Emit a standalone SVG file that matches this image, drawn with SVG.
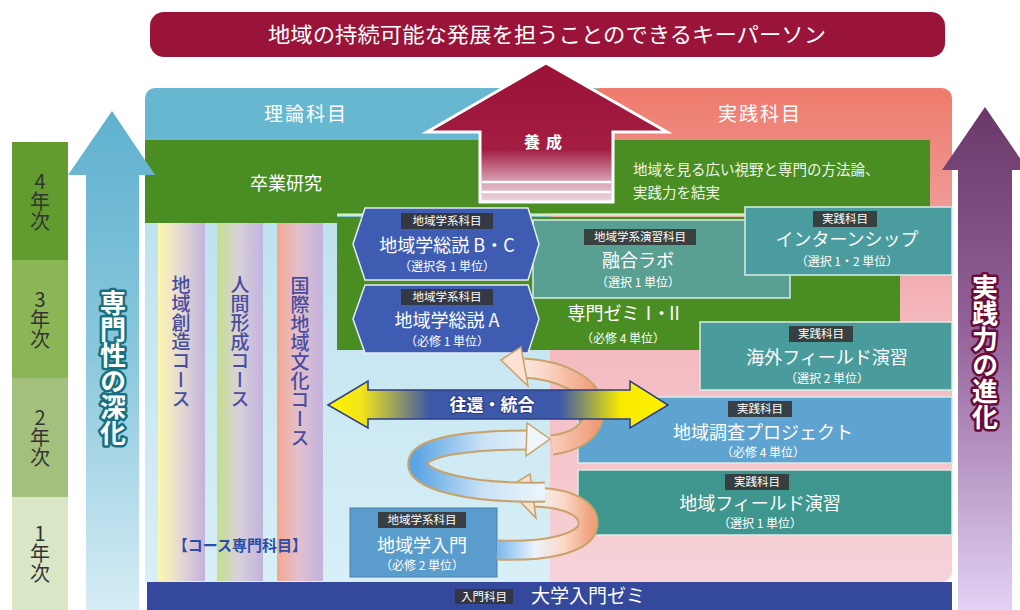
<svg xmlns="http://www.w3.org/2000/svg" width="1020" height="610" viewBox="0 0 1020 610">
<defs>
<style>
text{font-family:"Noto Sans CJK JP","Noto Sans",sans-serif}
.w{fill:#fff;text-anchor:middle}
.ttl{font-size:18px}
.sub{font-size:12px}
.tagr{fill:#333;opacity:.88}
.tagt{fill:#fff;font-size:11.5px;text-anchor:middle}
.vt{writing-mode:vertical-rl;text-orientation:upright;text-anchor:middle}
.yr{font-size:20px;fill:#333}
.crs{font-size:19px;fill:#4a4c9e;font-weight:500}
.box{stroke:#d8ece6;stroke-width:1.5}
.band{fill:none;stroke-linecap:butt;stroke-linejoin:round}
</style>
<linearGradient id="gLA" x1="0" y1="0" x2="0" y2="1"><stop offset="0" stop-color="#5fb1cf"/><stop offset="0.5" stop-color="#8cc8dd"/><stop offset="1" stop-color="#d6edf5"/></linearGradient>
<linearGradient id="gRA" x1="0" y1="0" x2="0" y2="1"><stop offset="0" stop-color="#6a3868"/><stop offset="0.45" stop-color="#94639a"/><stop offset="1" stop-color="#e2d2f4"/></linearGradient>
<linearGradient id="gYo" x1="0" y1="0" x2="0" y2="1"><stop offset="0" stop-color="#9a1236"/><stop offset="0.62" stop-color="#a31c42"/><stop offset="0.85" stop-color="#d7a0b3"/><stop offset="1" stop-color="#ecd9e1"/></linearGradient>
<linearGradient id="gR" gradientUnits="userSpaceOnUse" x1="0" y1="88" x2="0" y2="582"><stop offset="0" stop-color="#ee7b6c"/><stop offset="0.12" stop-color="#ef8a80"/><stop offset="0.45" stop-color="#f3b6bd"/><stop offset="1" stop-color="#f7d3d9"/></linearGradient>
<linearGradient id="gL" x1="0" y1="0" x2="0" y2="1"><stop offset="0" stop-color="#bfe2ef"/><stop offset="1" stop-color="#d8eff6"/></linearGradient>
<linearGradient id="gP1" x1="0" y1="0" x2="1" y2="0"><stop offset="0" stop-color="#fdf7b0"/><stop offset="0.45" stop-color="#e6dcd0"/><stop offset="1" stop-color="#c3b3de"/></linearGradient>
<linearGradient id="gP2" x1="0" y1="0" x2="1" y2="0"><stop offset="0" stop-color="#c4df8c"/><stop offset="0.45" stop-color="#d8d2d8"/><stop offset="1" stop-color="#c3b3de"/></linearGradient>
<linearGradient id="gP3" x1="0" y1="0" x2="1" y2="0"><stop offset="0" stop-color="#f6a68e"/><stop offset="0.45" stop-color="#e2c0cc"/><stop offset="1" stop-color="#c3b3de"/></linearGradient>
<linearGradient id="gY" gradientUnits="userSpaceOnUse" x1="328" y1="0" x2="668" y2="0"><stop offset="0" stop-color="#fff200"/><stop offset="0.1" stop-color="#f2e41a"/><stop offset="0.3" stop-color="#3c58a8"/><stop offset="0.68" stop-color="#3c58a8"/><stop offset="0.86" stop-color="#f7ea00"/><stop offset="1" stop-color="#fff200"/></linearGradient>
<linearGradient id="gS1" gradientUnits="userSpaceOnUse" x1="497" y1="0" x2="592" y2="0"><stop offset="0" stop-color="#7ab8ec"/><stop offset="0.4" stop-color="#eaf3fb"/><stop offset="0.7" stop-color="#fbd9c6"/><stop offset="1" stop-color="#efa07c"/></linearGradient>
<linearGradient id="gS2" gradientUnits="userSpaceOnUse" x1="415" y1="0" x2="550" y2="0"><stop offset="0" stop-color="#5aa4e4"/><stop offset="0.5" stop-color="#c8e2f6"/><stop offset="1" stop-color="#f0f7fc"/></linearGradient>
<linearGradient id="gS3" gradientUnits="userSpaceOnUse" x1="490" y1="0" x2="596" y2="0"><stop offset="0" stop-color="#f4f8fc"/><stop offset="0.5" stop-color="#fbd8c8"/><stop offset="1" stop-color="#ee9d7a"/></linearGradient>
</defs>

<!-- background panels -->
<rect x="145" y="88" width="460" height="140" rx="10" fill="#67b7d1"/>
<rect x="590" y="88" width="362" height="494" rx="10" fill="url(#gR)"/>
<rect x="550" y="140" width="60" height="442" fill="url(#gR)"/>
<rect x="145" y="222" width="405" height="360" fill="url(#gL)"/>
<text x="306" y="121" class="w" style="font-size:19px;letter-spacing:2px">理論科目</text>
<text x="760" y="121" class="w" style="font-size:19px;letter-spacing:2px">実践科目</text>

<!-- year column -->
<g id="years">
<rect x="12" y="142" width="56" height="118" fill="#629c2e"/>
<rect x="12" y="260" width="56" height="118" fill="#8ab656"/>
<rect x="12" y="378" width="56" height="119" fill="#a3c07c"/>
<rect x="12" y="497" width="56" height="113" fill="#d9e7c6"/>
<text x="40" y="201" class="vt yr">4年次</text>
<text x="40" y="319" class="vt yr">3年次</text>
<text x="40" y="437" class="vt yr">2年次</text>
<text x="40" y="553" class="vt yr">1年次</text>
</g>

<!-- course pillars -->
<g id="courses">
<rect x="158" y="223" width="47" height="358" fill="url(#gP1)"/>
<rect x="217" y="223" width="46" height="358" fill="url(#gP2)"/>
<rect x="277" y="223" width="46" height="358" fill="url(#gP3)"/>
<text x="181" y="342" class="vt crs">地域創造コース</text>
<text x="240" y="342" class="vt crs">人間形成コース</text>
<text x="300" y="362" class="vt crs">国際地域文化コース</text>
<text x="240" y="551" text-anchor="middle" style="font-size:15px;font-weight:700;fill:#2b4ea8">【コース専門科目】</text>
</g>

<!-- green areas -->
<g id="sotsugyo">
<rect x="145" y="140" width="785" height="73" fill="#4a8e23"/>
<rect x="145" y="212" width="192" height="11" fill="#4a8e23"/>
<rect x="337" y="217" width="563" height="133" fill="#4a8e23"/>
<line x1="337" y1="215" x2="930" y2="215" stroke="#d4e9c6" stroke-width="2.5"/>
<text x="286" y="190" class="w" style="font-size:18px">卒業研究</text>
<text x="633" y="175" style="font-size:14.5px;fill:#eef6e4">地域を見る広い視野と専門の方法論、</text>
<text x="633" y="198" style="font-size:14.5px;fill:#eef6e4">実践力を結実</text>
</g>

<!-- 養成 arrow -->
<g id="yosei">
<polygon points="546,63 667,132 613,132 613,202 480,202 480,132 427,132" fill="url(#gYo)" stroke="#fff" stroke-width="3" stroke-linejoin="miter"/>
<line x1="482" y1="182" x2="611" y2="182" stroke="#fff" stroke-width="2.5"/>
<line x1="482" y1="192" x2="611" y2="192" stroke="#fff" stroke-width="2.5"/>
<text x="546" y="148" class="w" style="font-size:16px;font-weight:700;letter-spacing:6px">養成</text>
</g>

<!-- banner -->
<g id="goal">
<rect x="150" y="12" width="795" height="45" rx="14" fill="#9a1439"/>
<text x="547" y="42" class="w" style="font-size:21px" textLength="558" lengthAdjust="spacingAndGlyphs">地域の持続可能な発展を担うことのできるキーパーソン</text>
</g>

<!-- side arrows -->
<g id="senmon">
<polygon points="112,111 155,175 139,175 139,610 86,610 86,175 68,175" fill="url(#gLA)"/>
<text x="113" y="368" class="vt" style="font-size:26px;font-weight:700;fill:#fff;stroke:#17707f;stroke-width:5;paint-order:stroke;stroke-linejoin:round">専門性の深化</text>
</g>
<g id="jissen">
<polygon points="985,107 1028,170 1012,170 1012,610 958,610 958,170 942,170" fill="url(#gRA)"/>
<text x="985" y="352" class="vt" style="font-size:26px;font-weight:700;fill:#fff;stroke:#6a0c38;stroke-width:5;paint-order:stroke;stroke-linejoin:round">実践力の進化</text>
</g>

<!-- boxes -->
<g id="yugo-lab">
<rect x="533" y="220" width="257" height="78" fill="#5aa092" class="box"/>
<rect x="584" y="229" width="112" height="16" class="tagr"/>
<text x="640" y="241" class="tagt">地域学系演習科目</text>
<text x="638" y="267" class="w ttl">融合ラボ</text>
<text x="638" y="287" class="w sub">（選択 1 単位）</text>
</g>
<g id="seminar">
<text x="623" y="320" class="w ttl"><tspan>専門ゼミ</tspan><tspan style="letter-spacing:-5px">Ⅰ・Ⅱ</tspan></text>
<text x="623" y="343" class="w sub">（必修 4 単位）</text>
</g>
<g id="soron-bc">
<polygon points="353,244 365,208 528,208 539,244 528,280 365,280" fill="#3e5cb2" stroke="#e4ecf8" stroke-width="1.5"/>
<rect x="401" y="213" width="92" height="16" class="tagr"/>
<text x="447" y="225" class="tagt">地域学系科目</text>
<text x="447" y="252" class="w ttl">地域学総説 B・C</text>
<text x="447" y="271" class="w sub">（選択各 1 単位）</text>
</g>
<g id="soron-a">
<polygon points="353,319 365,285 528,285 539,319 528,353 365,353" fill="#3e5cb2" stroke="#e4ecf8" stroke-width="1.5"/>
<rect x="401" y="289" width="92" height="16" class="tagr"/>
<text x="447" y="301" class="tagt">地域学系科目</text>
<text x="447" y="327" class="w ttl">地域学総説 A</text>
<text x="447" y="346" class="w sub">（必修 1 単位）</text>
</g>
<g id="internship">
<rect x="745" y="207" width="207" height="68" fill="#4a9c9e" class="box"/>
<rect x="813" y="211" width="64" height="16" class="tagr"/>
<text x="845" y="223" class="tagt">実践科目</text>
<text x="847" y="246" class="w ttl">インターンシップ</text>
<text x="847" y="266" class="w sub">（選択 1・2 単位）</text>
</g>
<g id="kaigai">
<rect x="700" y="322" width="252" height="68" fill="#4a9c9c" class="box"/>
<rect x="789" y="326" width="64" height="16" class="tagr"/>
<text x="821" y="338" class="tagt">実践科目</text>
<text x="827" y="364" class="w ttl">海外フィールド演習</text>
<text x="827" y="383" class="w sub">（選択 2 単位）</text>
</g>
<g id="chosa">
<rect x="578" y="397" width="374" height="66" fill="#5fa3d0" class="box"/>
<rect x="728" y="401" width="64" height="16" class="tagr"/>
<text x="760" y="413" class="tagt">実践科目</text>
<text x="763" y="439" class="w ttl">地域調査プロジェクト</text>
<text x="763" y="457" class="w sub">（必修 4 単位）</text>
</g>
<g id="field">
<rect x="578" y="470" width="374" height="65" fill="#3f968f" class="box"/>
<rect x="725" y="474" width="64" height="16" class="tagr"/>
<text x="757" y="486" class="tagt">実践科目</text>
<text x="760" y="510" class="w ttl">地域フィールド演習</text>
<text x="760" y="528" class="w sub">（選択 1 単位）</text>
</g>
<g id="nyumon">
<rect x="350" y="508" width="147" height="69" fill="#5a9ccc" stroke="#4a7eaa" stroke-width="1"/>
<rect x="378" y="512" width="88" height="16" class="tagr"/>
<text x="422" y="524" class="tagt">地域学系科目</text>
<text x="422" y="552" class="w ttl">地域学入門</text>
<text x="422" y="570" class="w sub">（必修 2 単位）</text>
</g>
<g id="daigaku-seminar">
<rect x="147" y="582" width="805" height="28" fill="#34489c"/>
<rect x="455" y="589" width="58" height="15" class="tagr"/>
<text x="484" y="601" class="tagt">入門科目</text>
<text x="531" y="603" style="font-size:19px;fill:#fff">大学入門ゼミ</text>
</g>

<!-- connectors -->
<g id="connectors">
<path d="M497,550 C540,552 586,545 588,525 C590,505 560,497 530,497" class="band" stroke="#c9a26a" stroke-width="21"/>
<path d="M497,550 C540,552 586,545 588,525 C590,505 560,497 530,497" class="band" stroke="url(#gS1)" stroke-width="17"/>
<polygon points="507,488 530,474 536,518" fill="#f8e0d0" stroke="#c9a26a" stroke-width="1.5"/>
<path d="M545,492 C470,494 414,480 418,462 C421,446 470,440 527,440" class="band" stroke="#c9a26a" stroke-width="21"/>
<path d="M545,492 C470,494 414,480 418,462 C421,446 470,440 527,440" class="band" stroke="url(#gS2)" stroke-width="17"/>
<polygon points="550,439 527,423 526,456" fill="#eef6fc" stroke="#c9a26a" stroke-width="1.5"/>
<path d="M552,445 C575,442 594,432 594,410 C594,385 560,370 524,368" class="band" stroke="#c9a26a" stroke-width="21"/>
<path d="M552,445 C575,442 594,432 594,410 C594,385 560,370 524,368" class="band" stroke="url(#gS3)" stroke-width="17"/>
<polygon points="501,360 521,347 528,386" fill="#fbe2d4" stroke="#c9a26a" stroke-width="1.5"/>
<polygon points="328,405 368,381 368,390 630,390 630,381 668,405 630,428 630,419 368,419 368,428" fill="url(#gY)" stroke="#2c3d86" stroke-width="1.5" stroke-linejoin="miter"/>
<text x="492" y="411" class="w" style="font-size:17px;font-weight:700;stroke:#2c3d86;stroke-width:2;paint-order:stroke">往還・統合</text>
</g>
</svg>
